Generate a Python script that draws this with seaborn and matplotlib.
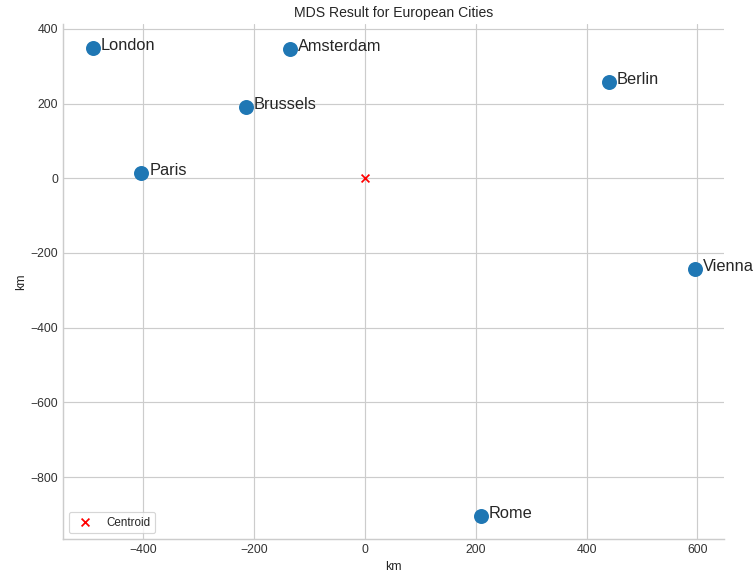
import matplotlib
matplotlib.use("Agg")
import matplotlib.pyplot as plt
import seaborn as sns
import pandas as pd

cities = ["London", "Amsterdam", "Brussels", "Paris", "Berlin", "Vienna", "Rome"]
x_km = [-491, -135, -215, -404, 440, 595, 209]
y_km = [348, 345, 190, 13, 257, -243, -904]
centroid_x = [0]
centroid_y = [0]

sns.set_theme(style="whitegrid")
plt.rcParams['font.family'] = ['Liberation Sans', 'DejaVu Sans']
plt.rcParams['axes.edgecolor'] = '#cccccc'

df = pd.DataFrame({"city": cities, "x": x_km, "y": y_km})

DPI = 84
fig = plt.figure(figsize=(755 / DPI, 576 / DPI), dpi=DPI)
ax = fig.add_axes([63 / 755, 1 - 539 / 576, (724 - 63) / 755, (539 - 24) / 576])

sns.scatterplot(data=df, x="x", y="y", s=165, color="#1f77b4", linewidth=0, ax=ax, zorder=3)
ax.scatter(centroid_x, centroid_y, marker="x", color="red", s=45, label="Centroid", zorder=4)

for name, xv, yv in zip(cities, x_km, y_km):
    ax.annotate(name, (xv, yv), xytext=(7, -1.5), textcoords="offset points",
                fontsize=14, color="#262626", va="baseline", ha="left")

ax.set_xlim(-545, 648)
ax.set_ylim(-966, 413)
ax.set_xticks([-400, -200, 0, 200, 400, 600])
ax.set_yticks([-800, -600, -400, -200, 0, 200, 400])
ax.tick_params(labelsize=10.5, colors="#333333", length=0, pad=4)
ax.set_title("MDS Result for European Cities", fontsize=12, color="#262626")
ax.set_xlabel("km", fontsize=10.5, color="#262626", labelpad=5)
ax.set_ylabel("km", fontsize=10.5, color="#262626", labelpad=3)
sns.despine(ax=ax, top=True, right=True)
ax.legend(loc="lower left", fontsize=10, frameon=True)

fig.savefig("out.png", dpi=DPI)
